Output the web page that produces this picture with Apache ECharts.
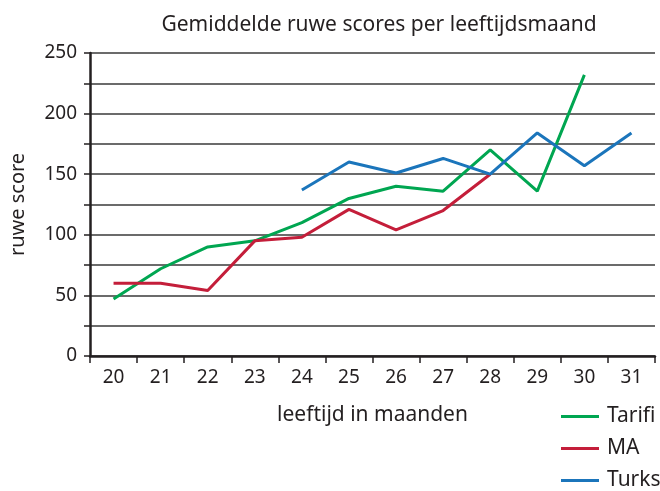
<!DOCTYPE html>
<html>
<head>
<meta charset="utf-8">
<script src="https://cdn.jsdelivr.net/npm/echarts@6/dist/echarts.min.js"></script>
<style>
  html, body { margin: 0; padding: 0; background: #fff; }
  #chart { width: 660px; height: 491px; }
</style>
</head>
<body>
<div id="chart"></div>
<script>
const months = ["20", "21", "22", "23", "24", "25", "26", "27", "28", "29", "30", "31"];
const tarifi = [47, 72, 90, 95, 110, 130, 140, 136, 170, 136, 232, null];
const ma = [60, 60, 54, 95, 98, 121, 104, 120, 150, null, null, null];
const turks = [null, null, null, null, 137, 160, 151, 163, 150, 184, 157, 184];
const seriesNames = ["Tarifi", "MA", "Turks"];
const colors = ["#00a651", "#c41e3a", "#1b75bb"];

const chart = echarts.init(document.getElementById("chart"));
const font = "Noto Sans";
const ink = "#231f20";

function line(name, data, color) {
  return {
    name: name,
    type: "line",
    data: data,
    symbol: "none",
    connectNulls: false,
    lineStyle: { color: color, width: 3 },
    itemStyle: { color: color }
  };
}

const option = {
  animation: false,
  backgroundColor: "#fff",
  title: {
    text: "Gemiddelde ruwe scores per leeftijdsmaand",
    left: 374,
    top: 7,
    textAlign: "center",
    textStyle: { fontFamily: font, fontWeight: "normal", fontSize: 21, lineHeight: 26, color: ink }
  },
  legend: {
    orient: "vertical",
    left: 561,
    top: 406,
    padding: 0,
    itemWidth: 38,
    itemHeight: 3,
    itemGap: 11,
    icon: "rect",
    data: seriesNames,
    textStyle: { fontFamily: font, fontSize: 21, lineHeight: 21, color: ink, padding: [0, 0, 0, 3] }
  },
  grid: { left: 89, right: 5, top: 53, bottom: 135 },
  xAxis: {
    type: "category",
    data: months,
    boundaryGap: true,
    name: "leeftijd in maanden",
    nameLocation: "middle",
    nameGap: 49,
    nameTextStyle: { fontFamily: font, fontSize: 21, color: ink },
    axisLine: { lineStyle: { color: ink, width: 2.5 } },
    axisTick: { show: true, length: 7, lineStyle: { color: ink, width: 1.5 } },
    axisLabel: { fontFamily: font, fontSize: 19, color: ink, margin: 12 },
    splitLine: { show: false }
  },
  yAxis: {
    type: "value",
    min: 0,
    max: 250,
    interval: 25,
    name: "ruwe score",
    nameLocation: "middle",
    nameRotate: 90,
    nameGap: 62,
    nameTextStyle: { fontFamily: font, fontSize: 20, color: ink },
    axisLine: { show: true, lineStyle: { color: ink, width: 2.5 } },
    axisTick: { show: true, length: 6, lineStyle: { color: ink, width: 1.5 } },
    axisLabel: {
      fontFamily: font, fontSize: 19, color: ink, margin: 13,
      formatter: v => (v % 50 === 0 ? String(v) : "")
    },
    splitLine: { show: true, lineStyle: { color: "#3a3a3a", width: 1.5 } }
  },
  series: [
    line(seriesNames[0], tarifi, colors[0]),
    line(seriesNames[1], ma, colors[1]),
    line(seriesNames[2], turks, colors[2])
  ]
};

chart.setOption(option);
</script>
</body>
</html>
